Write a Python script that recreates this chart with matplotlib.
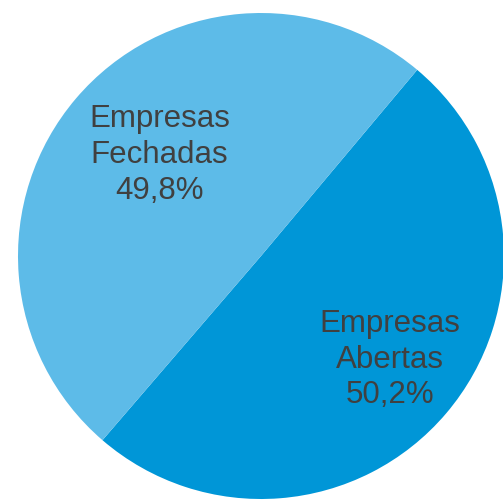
import matplotlib.pyplot as plt
import numpy as np

# Data
labels = ['Empresas\nAbertas', 'Empresas\nFechadas']
shares = [50.2, 49.8]
colors = ['#0096D7', '#5DBBE8']

plt.rcParams['font.family'] = ['Liberation Sans', 'DejaVu Sans']

fig = plt.figure(figsize=(5.03, 5.0), dpi=100)
ax = fig.add_axes([0, 0, 1, 1])

radius = 243
center = (261, 244)
wedges, _ = ax.pie(shares, colors=colors, startangle=50, counterclock=False,
                   radius=radius, center=center,
                   wedgeprops=dict(linewidth=0))
ax.set_xlim(0, 503)
ax.set_ylim(0, 500)
ax.set_aspect('equal')
ax.axis('off')

# label text placed inside each wedge (distance, angle nudge)
label_dist = [0.68, 0.59]
label_turn = [1.5, -4.5]
for w, lab, val, d, t in zip(wedges, labels, shares, label_dist, label_turn):
    ang = np.deg2rad((w.theta1 + w.theta2) / 2 + t)
    x = center[0] + d * radius * np.cos(ang)
    y = center[1] + d * radius * np.sin(ang)
    txt = lab + '\n' + f'{val:.1f}%'.replace('.', ',')
    ax.text(x, y, txt, ha='center', va='center', fontsize=22.5,
            color='#404040', linespacing=1.25)

fig.savefig('out.png', dpi=100)
